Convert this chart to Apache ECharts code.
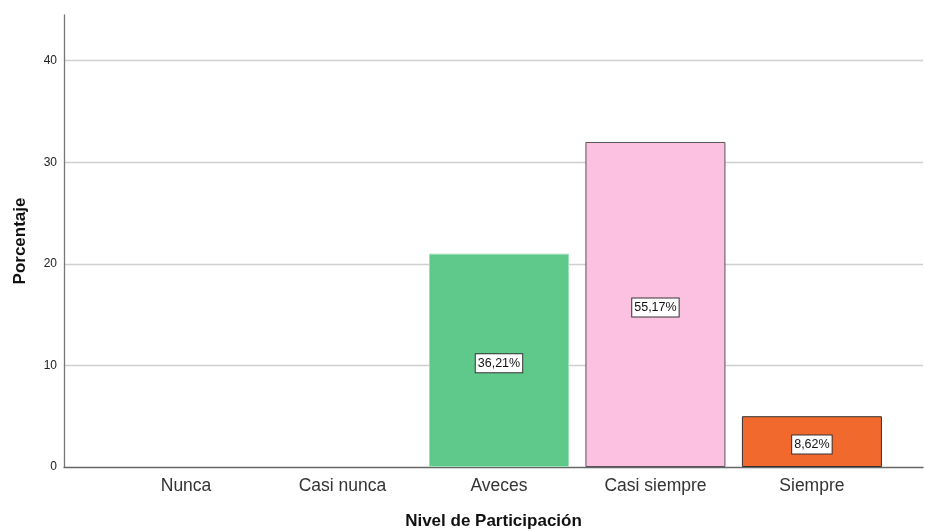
<!DOCTYPE html>
<html>
<head>
<meta charset="utf-8">
<script src="https://cdn.jsdelivr.net/npm/echarts@6/dist/echarts.min.js"></script>
<style>
  html, body { margin: 0; padding: 0; background: #fff; }
  #chart { width: 925px; height: 531px; }
</style>
</head>
<body>
<div id="chart"></div>
<script>
// Nivel de participación: frecuencias por categoría
const categories = ['Nunca', 'Casi nunca', 'Aveces', 'Casi siempre', 'Siempre'];
const counts = [0, 0, 21, 32, 5];
const barColors = ['#5ec98b', '#5ec98b', '#5ec98b', '#fcc0e0', '#f2692e'];
const barBorders = ['#9fe0b8', '#9fe0b8', '#9fe0b8', '#555555', '#333333'];
const yTicks = [0, 10, 20, 30, 40];

const total = counts.reduce((a, b) => a + b, 0);
const fmtPct = v => (v / total * 100).toFixed(2).replace('.', ',') + '%';

const barData = counts.map((v, i) => ({
  value: [i, v],
  itemStyle: { color: barColors[i], borderColor: barBorders[i], borderWidth: v > 0 ? 1 : 0 },
  label: { show: v > 0 }
}));

const chart = echarts.init(document.getElementById('chart'));
chart.setOption({
  animation: false,
  textStyle: { fontFamily: 'Liberation Sans, Arial, sans-serif' },
  grid: { left: 64, right: 2, top: 15, bottom: 64, outerBoundsMode: 'none', containLabel: false },
  xAxis: {
    type: 'value',
    min: -0.78,
    max: 4.71,
    name: 'Nivel de Participación',
    nameLocation: 'middle',
    nameGap: 46,
    nameTextStyle: { fontSize: 17, fontWeight: 'bold', color: '#111' },
    axisLine: { show: true, lineStyle: { color: '#666', width: 1.3 } },
    axisTick: { show: false },
    splitLine: { show: false },
    axisLabel: {
      customValues: categories.map((c, i) => i),
      formatter: v => categories[Math.round(v)],
      fontSize: 17.5,
      color: '#333',
      margin: 10
    }
  },
  yAxis: {
    type: 'value',
    min: yTicks[0],
    max: 44.5,
    interval: 10,
    name: 'Porcentaje',
    nameLocation: 'middle',
    nameGap: 35,
    nameTextStyle: { fontSize: 17, fontWeight: 'bold', color: '#111' },
    axisLine: { show: true, onZero: false, lineStyle: { color: '#777', width: 1.3 } },
    axisTick: { show: false },
    axisLabel: {
      showMaxLabel: false,
      formatter: v => (yTicks.indexOf(v) >= 0 ? String(v) : ''),
      fontSize: 12,
      color: '#222',
      margin: 7
    },
    splitLine: {
      show: true,
      showMinLine: false,
      showMaxLine: false,
      lineStyle: { color: '#d0d0d0', width: 1.3 }
    }
  },
  series: [{
    type: 'bar',
    barWidth: 140,
    data: barData,
    label: {
      position: 'inside',
      offset: [0, 3],
      formatter: p => fmtPct(p.value[1]),
      fontSize: 12.5,
      color: '#111',
      backgroundColor: '#fff',
      borderColor: '#333',
      borderWidth: 1,
      padding: [3, 2, 2, 2]
    }
  }]
});
</script>
</body>
</html>
